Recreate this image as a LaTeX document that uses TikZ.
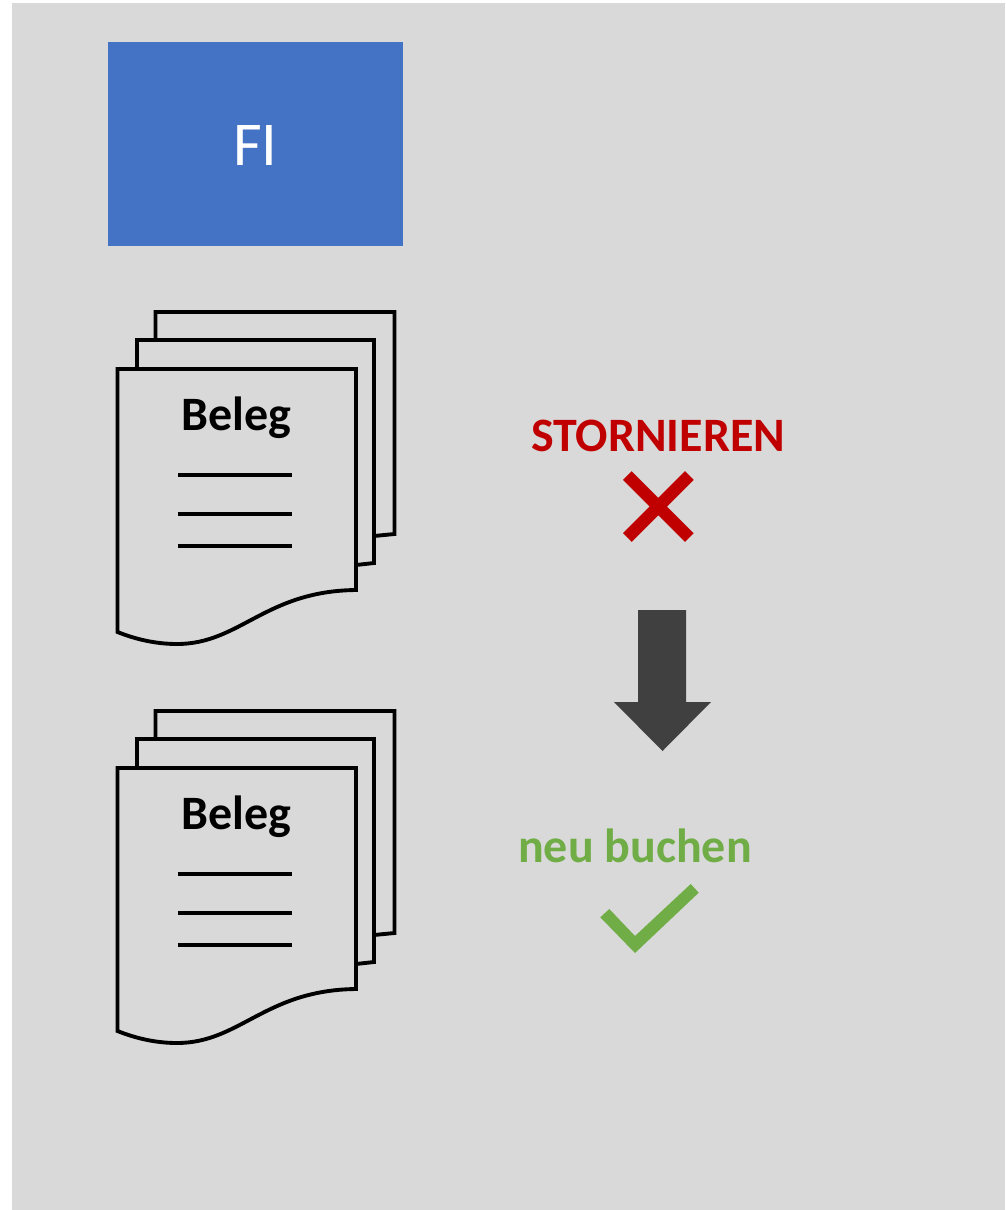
\documentclass[tikz,border=0pt]{standalone}
\usepackage{fontspec}
\setmainfont{Carlito}
\definecolor{panelgray}{HTML}{D9D9D9}
\definecolor{fiblue}{HTML}{4472C4}
\definecolor{stornored}{HTML}{C00000}
\definecolor{neugreen}{HTML}{70AD47}
\definecolor{arrowgray}{HTML}{404040}
\tikzset{
belegpage/.style={draw=black,line width=2.2pt,miter limit=10},
belegline/.style={draw=black,line width=2.1pt},
boldtext/.style={inner sep=0pt,outer sep=0pt,font=\fontsize{27.3}{32}\selectfont\bfseries},
belegstack/.pic={
\draw[belegpage] (155.5,340) -- (155.5,312) -- (394.5,312) -- (394.5,534) -- (374,536);
\draw[belegpage] (137,369) -- (137,340) -- (374,340) -- (374,563) -- (356,565);
\draw[belegpage] (117.5,632) -- (117.5,369) -- (356,369) -- (356,590)
  .. controls (265,591) and (240,644) .. (177,644) .. controls (155,644) and (135,639) .. (117.5,632) -- cycle;
\node[boldtext] at (236.5,418) {Beleg};
\foreach \liney in {475,514,546}
  \draw[belegline] (178,\liney) -- (292,\liney);
}}
\begin{document}
\begin{tikzpicture}[x=0.02cm,y=-0.02cm]
\useasboundingbox (0,0) rectangle (1005,1210);

\fill[panelgray] (12,3) rectangle (1005,1210);
\node[fill=fiblue,text=white,inner sep=0pt,minimum width=5.9cm,minimum height=4.08cm,
  text height=24.2pt,text depth=0pt,font=\fontsize{35.5}{42}\selectfont] (fi) at (255.5,144) {FI};

\pic at (0,0) {belegstack};
\pic at (0,399) {belegstack};

\node[boldtext,text=stornored] (storno) at (658,436) {STORNIEREN};
\draw[stornored,line width=7pt] (627.3,475.5) -- (689.3,537.5) (689.3,475.5) -- (627.3,537.5);

\fill[arrowgray] (638,610) -- (686,610) -- (686,702) -- (711,702) -- (662.5,751) -- (614,702) -- (638,702) -- cycle;

\node[boldtext,text=neugreen] (neu) at (635,845.5) {neu buchen};
\fill[neugreen] (600.3,917.3) -- (609.3,909) -- (635,936) -- (690.7,884) -- (698.7,892.7) -- (635,953) -- cycle;

\end{tikzpicture}
\end{document}
